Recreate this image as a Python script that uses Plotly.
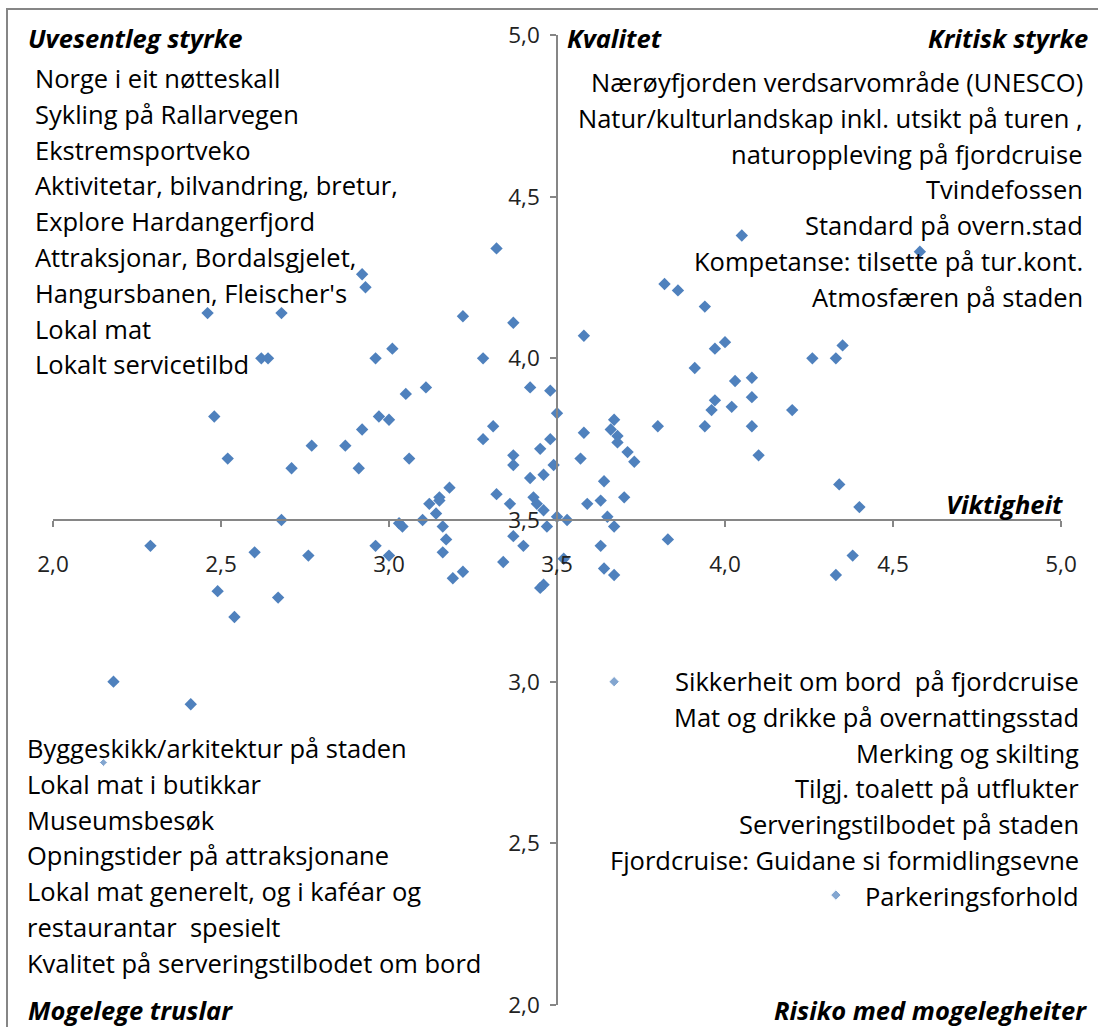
import plotly.graph_objects as go

# Importance (x) and quality (y) scores for each rated item
viktigheit = [
    2.46, 2.68, 2.92, 2.93, 2.62, 2.64, 2.48, 2.52, 2.71, 2.77, 2.87, 2.92, 2.91,
    3.32, 3.22, 3.37, 2.96, 3.01, 3.28, 3.05, 3.11, 3.42, 3.48, 3.50, 2.97, 3.00,
    3.31, 3.28, 3.37, 3.45, 3.48, 3.06, 3.37, 3.49, 3.42, 3.46, 3.18, 3.32, 3.36,
    3.43, 3.44, 3.46, 3.15, 3.15, 3.12, 3.14, 3.10, 2.68, 3.50,
    3.03, 3.04, 3.16, 3.17, 3.16, 2.96, 3.00, 3.19, 3.22, 3.37, 3.40, 3.34, 3.45,
    3.46, 3.47, 2.29, 2.60, 2.76, 2.49, 2.67, 2.54, 2.18, 2.41,
    4.05, 4.58, 3.58, 3.82, 3.86, 3.94, 3.97, 4.00, 3.91, 4.26, 4.33, 4.35, 4.08,
    4.03, 4.08, 3.97, 3.96, 4.02, 4.20, 3.94, 4.08, 4.10, 3.80, 3.58, 3.67, 3.66,
    3.68, 3.68, 3.71, 3.73, 3.57, 3.64, 3.59, 3.63, 3.70, 3.65, 4.34, 4.40,
    3.53, 3.67, 3.63, 3.64, 3.67, 3.83, 4.38, 4.33, 3.52,
]
kvalitet = [
    4.14, 4.14, 4.26, 4.22, 4.00, 4.00, 3.82, 3.69, 3.66, 3.73, 3.73, 3.78, 3.66,
    4.34, 4.13, 4.11, 4.00, 4.03, 4.00, 3.89, 3.91, 3.91, 3.90, 3.83, 3.82, 3.81,
    3.79, 3.75, 3.70, 3.72, 3.75, 3.69, 3.67, 3.67, 3.63, 3.64, 3.60, 3.58, 3.55,
    3.57, 3.55, 3.53, 3.57, 3.56, 3.55, 3.52, 3.50, 3.50, 3.51,
    3.49, 3.48, 3.48, 3.44, 3.40, 3.42, 3.39, 3.32, 3.34, 3.45, 3.42, 3.37, 3.29,
    3.30, 3.48, 3.42, 3.40, 3.39, 3.28, 3.26, 3.20, 3.00, 2.93,
    4.38, 4.33, 4.07, 4.23, 4.21, 4.16, 4.03, 4.05, 3.97, 4.00, 4.00, 4.04, 3.94,
    3.93, 3.88, 3.87, 3.84, 3.85, 3.84, 3.79, 3.79, 3.70, 3.79, 3.77, 3.81, 3.78,
    3.76, 3.74, 3.71, 3.68, 3.69, 3.62, 3.55, 3.56, 3.57, 3.51, 3.61, 3.54,
    3.50, 3.48, 3.42, 3.35, 3.33, 3.44, 3.39, 3.33, 3.38,
]

# Items whose markers sit inside the text lists
viktigheit_liste = [3.67, 4.33, 2.15]
kvalitet_liste = [3.00, 2.34, 2.75]

aksetikk = [2.0, 2.5, 3.0, 3.5, 4.0, 4.5, 5.0]

# Quadrant headings and item lists
tittel_uo = "Uvesentleg styrke"
tittel_mo = "Kvalitet"
tittel_ho = "Kritisk styrke"
tittel_x = "Viktigheit"
tittel_un = "Mogelege truslar"
tittel_hn = "Risiko med mogelegheiter"

liste_uo = [
    "Norge i eit nøtteskall",
    "Sykling på Rallarvegen",
    "Ekstremsportveko",
    "Aktivitetar, bilvandring, bretur,",
    "Explore Hardangerfjord",
    "Attraksjonar, Bordalsgjelet,",
    "Hangursbanen, Fleischer's",
    "Lokal mat",
    "Lokalt servicetilbd",
]
liste_ho = [
    "Nærøyfjorden verdsarvområde (UNESCO)",
    "Natur/kulturlandskap inkl. utsikt på turen ,",
    "naturoppleving på fjordcruise",
    "Tvindefossen",
    "Standard på overn.stad",
    "Kompetanse: tilsette på tur.kont.",
    "Atmosfæren på staden",
]
liste_un = [
    "Byggeskikk/arkitektur på staden",
    "Lokal mat i butikkar",
    "Museumsbesøk",
    "Opningstider på attraksjonane",
    "Lokal mat generelt, og i kaféar og",
    "restaurantar  spesielt",
    "Kvalitet på serveringstilbodet om bord",
]
liste_hn = [
    "Sikkerheit om bord  på fjordcruise",
    "Mat og drikke på overnattingsstad",
    "Merking og skilting",
    "Tilgj. toalett på utflukter",
    "Serveringstilbodet på staden",
    "Fjordcruise: Guidane si formidlingsevne",
    "Parkeringsforhold",
]

W, H = 1098, 1027
ML, MR, MT, MB = 53, 37, 35, 22
PW, PH = W - ML - MR, H - MT - MB

FONT = "Open Sans"
BLUE = "#4F81BD"
AXIS = "#868686"
TEXT_SIZE = 25.5
TITLE_SIZE = 25.5


def paper(px, py):
    """Pixel position in the page -> paper coordinates."""
    return (px - ML) / PW, (H - MB - py) / PH


fig = go.Figure()
fig.add_trace(go.Scatter(
    x=viktigheit, y=kvalitet, mode="markers",
    marker=dict(symbol="diamond", size=9.5, color=BLUE),
    showlegend=False, cliponaxis=False,
))
fig.add_trace(go.Scatter(
    x=viktigheit_liste, y=kvalitet_liste, mode="markers",
    marker=dict(symbol="diamond", size=[8, 8, 6], color=BLUE),
    showlegend=False, cliponaxis=False,
))

annotations = []


def label(text, px, py, anchor, size=TEXT_SIZE, bold_italic=False):
    xp, yp = paper(px, py)
    if bold_italic:
        text = "<b><i>" + text + "</i></b>"
    annotations.append(dict(
        text=text, x=xp, y=yp, xref="paper", yref="paper",
        xanchor=anchor, yanchor="middle", showarrow=False,
        font=dict(family=FONT, size=size, color="#000000"),
    ))


LINE = 35.8
for i, t in enumerate(liste_uo):
    label(t, 33, 78 + i * LINE, "left")
for i, t in enumerate(liste_ho):
    label(t, 1085, 82 + i * LINE, "right")
for i, t in enumerate(liste_un):
    label(t, 25, 748 + i * LINE, "left")
for i, t in enumerate(liste_hn):
    label(t, 1081, 681 + i * LINE, "right")

label(tittel_uo, 26, 38, "left", size=TITLE_SIZE, bold_italic=True)
label(tittel_mo, 565, 38, "left", size=TITLE_SIZE, bold_italic=True)
label(tittel_ho, 1090, 38, "right", size=TITLE_SIZE, bold_italic=True)
label(tittel_x, 1065, 504, "right", size=TITLE_SIZE, bold_italic=True)
label(tittel_un, 26, 1010, "left", size=TITLE_SIZE, bold_italic=True)
label(tittel_hn, 1089, 1010, "right", size=TITLE_SIZE, bold_italic=True)

# outer chart frame (top and left edges fall inside the page)
fx0, fy1 = paper(7, 9)
fx1, fy0 = paper(W + 5, H + 5)

axis_common = dict(
    range=[2, 5], tickvals=aksetikk, tickformat=".1f",
    showline=True, linecolor=AXIS, linewidth=1.5,
    ticks="outside", ticklen=6, tickcolor=AXIS, tickwidth=1.5,
    showgrid=False, zeroline=False, anchor="free", position=0.5,
    tickfont=dict(family=FONT, size=22.5, color="#222222"),
)

fig.update_layout(
    width=W, height=H,
    margin=dict(l=ML, r=MR, t=MT, b=MB, autoexpand=False),
    paper_bgcolor="white", plot_bgcolor="white",
    separators=", ",
    xaxis=dict(**axis_common, ticklabelstandoff=18),
    yaxis=dict(**axis_common, ticklabelstandoff=6),
    annotations=annotations,
    shapes=[dict(type="rect", xref="paper", yref="paper",
                 x0=fx0, x1=fx1, y0=fy0, y1=fy1,
                 line=dict(color=AXIS, width=2), layer="below")],
)

fig.write_html("out.html")
